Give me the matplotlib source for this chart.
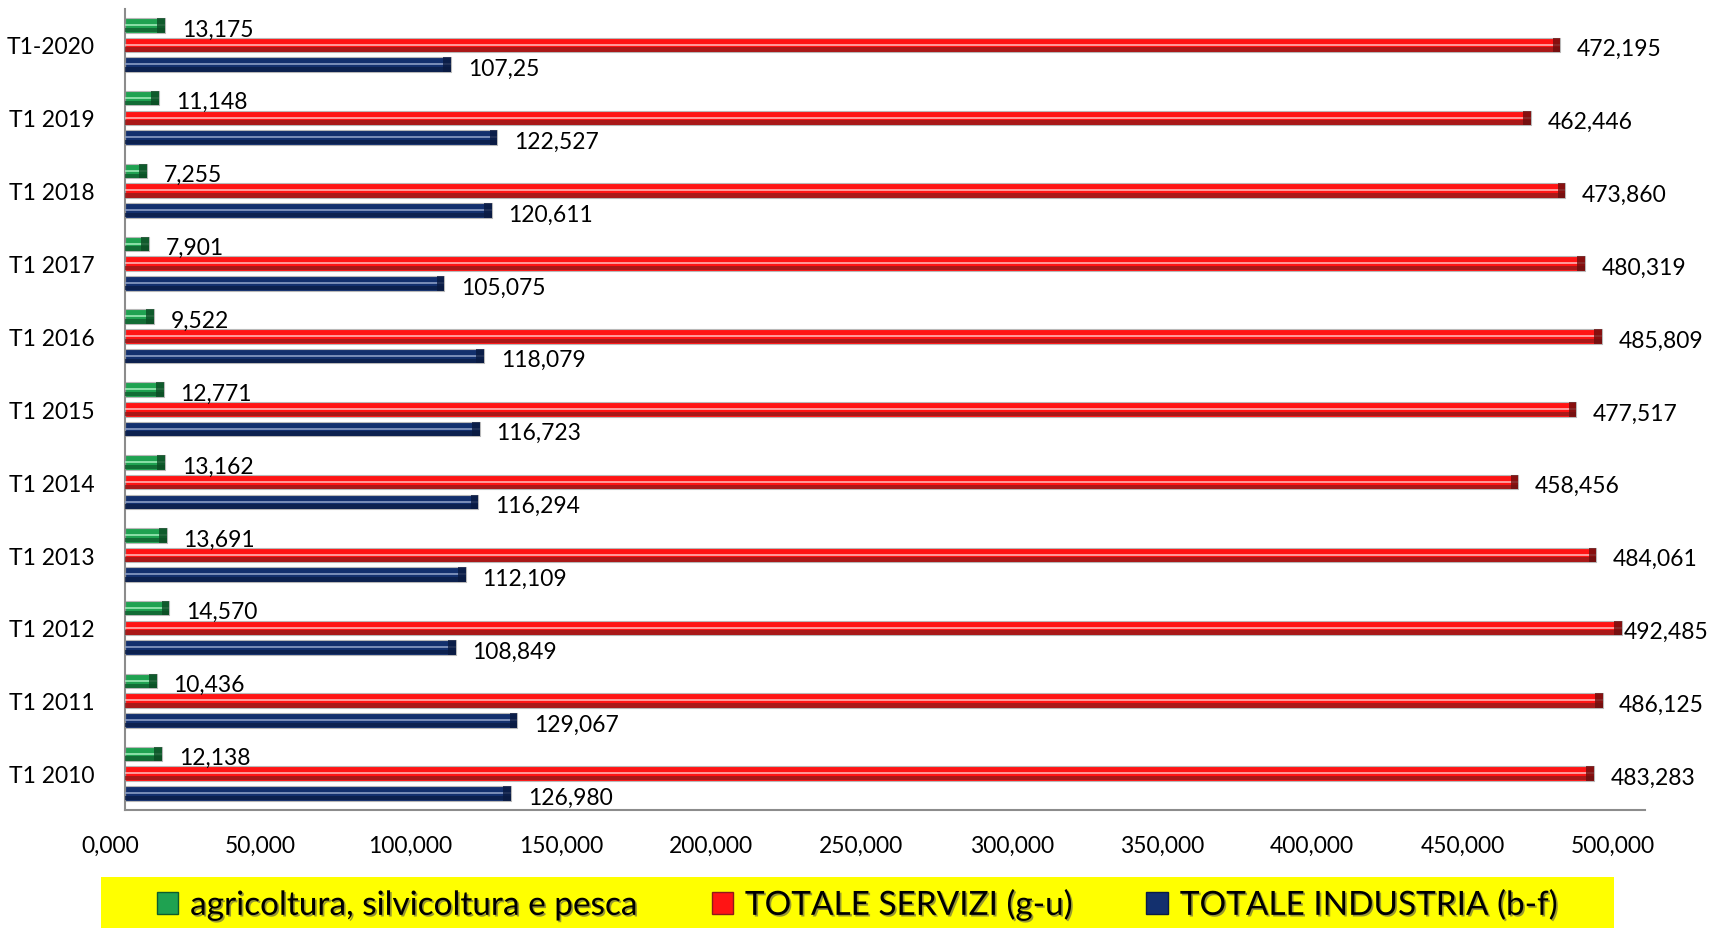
import matplotlib
matplotlib.use("Agg")
import matplotlib.pyplot as plt
import matplotlib.patheffects as pe
import matplotlib.transforms as mtransforms
from matplotlib.patches import Patch
import numpy as np

categories = ["T1 2010", "T1 2011", "T1 2012", "T1 2013", "T1 2014", "T1 2015",
              "T1 2016", "T1 2017", "T1 2018", "T1 2019", "T1-2020"]
agricoltura = [12.138, 10.436, 14.570, 13.691, 13.162, 12.771, 9.522, 7.901, 7.255, 11.148, 13.175]
servizi = [483.283, 486.125, 492.485, 484.061, 458.456, 477.517, 485.809, 480.319, 473.860, 462.446, 472.195]
industria = [126.980, 129.067, 108.849, 112.109, 116.294, 116.723, 118.079, 105.075, 120.611, 122.527, 107.25]
agricoltura_labels = ["12,138", "10,436", "14,570", "13,691", "13,162", "12,771", "9,522", "7,901", "7,255", "11,148", "13,175"]
servizi_labels = ["483,283", "486,125", "492,485", "484,061", "458,456", "477,517", "485,809", "480,319", "473,860", "462,446", "472,195"]
industria_labels = ["126,980", "129,067", "108,849", "112,109", "116,294", "116,723", "118,079", "105,075", "120,611", "122,527", "107,25"]
series_names = ["agricoltura, silvicoltura e pesca", "TOTALE SERVIZI (g-u)", "TOTALE INDUSTRIA (b-f)"]
xticks = [0, 50, 100, 150, 200, 250, 300, 350, 400, 450, 500]

plt.rcParams['font.family'] = ['Lato', 'DejaVu Sans']

fig = plt.figure(figsize=(17.15, 9.29), dpi=100)
ax = fig.add_axes([0.0729, 0.127, 0.959 - 0.0729, 0.9897 - 0.127])

y = np.arange(len(categories))
h = 0.2
off = 0.27

styles = [
    (agricoltura, agricoltura_labels, off, "#1FA251", "#9BE8B5", "#0E5C2C", "#0B4A23"),
    (servizi, servizi_labels, 0.0, "#FF1414", "#FFB0B0", "#8E1A1A", "#6A0E0E"),
    (industria, industria_labels, -off, "#13306E", "#8A9CC4", "#0A1C45", "#0A1A40"),
]

for vals, labs, o, base, hi, sh, cap in styles:
    yy = y + o
    ax.barh(yy, vals, height=h, color=base, edgecolor="#B8B8B8", linewidth=0.8, zorder=2)
    ax.barh(yy - h * 0.32, vals, height=h * 0.3, color=sh, alpha=0.75, linewidth=0, zorder=3)
    ax.barh(yy + h * 0.02, vals, height=h * 0.14, color=hi, alpha=0.85, linewidth=0, zorder=3)
    ax.barh(yy, [2.5] * len(vals), left=np.array(vals) - 2.5, height=h, color=cap,
            alpha=0.8, linewidth=0, zorder=4)
    for yi, v, t in zip(yy, vals, labs):
        ax.text(min(v + 5.5, 493.0), yi - 0.05, t, ha="left", va="center", fontsize=16.5,
                color="black", zorder=5)

ax.set_xlim(0, 500)
ax.set_ylim(-0.5, len(categories) - 0.5)
ax.set_yticks(y)
ax.set_yticklabels(categories, fontsize=16.5)
ax.set_xticks(xticks)
ax.set_xticklabels([f"{v:.3f}".replace(".", ",") for v in xticks], fontsize=16.5)
ax.tick_params(axis="y", length=0, pad=22)
ax.tick_params(axis="x", length=0, pad=18)
n = len(xticks)
for i, lab in enumerate(ax.get_xticklabels()):
    dx = -(15 + 17 * i / (n - 1)) / 100.0
    lab.set_transform(lab.get_transform() + mtransforms.ScaledTranslation(dx, 0, fig.dpi_scale_trans))
for s in ["top", "right"]:
    ax.spines[s].set_visible(False)
for s in ["left", "bottom"]:
    ax.spines[s].set_color("#8C8C8C")
    ax.spines[s].set_linewidth(1.5)

# yellow legend band
band = fig.add_axes([101 / 1715, 0.0, (1614 - 101) / 1715, 51 / 929])
band.set_facecolor("#FFFF00")
band.set_xticks([])
band.set_yticks([])
for s in band.spines.values():
    s.set_visible(False)

handles = [Patch(facecolor="#1FA251", edgecolor="#0E5C2C"),
           Patch(facecolor="#FF1414", edgecolor="#8E1A1A"),
           Patch(facecolor="#13306E", edgecolor="#0A1C45")]
leg = band.legend(handles, series_names, loc="center", bbox_to_anchor=(0.5, 0.45),
                  ncol=3, frameon=False, fontsize=24,
                  handlelength=0.65, handleheight=0.65, handletextpad=0.35,
                  borderaxespad=0.0, columnspacing=2.2)
for t in leg.get_texts():
    t.set_path_effects([pe.withSimplePatchShadow(offset=(1.2, -1.2), shadow_rgbFace="#555555", alpha=0.6)])

fig.savefig("out.png", dpi=100, facecolor="white")
